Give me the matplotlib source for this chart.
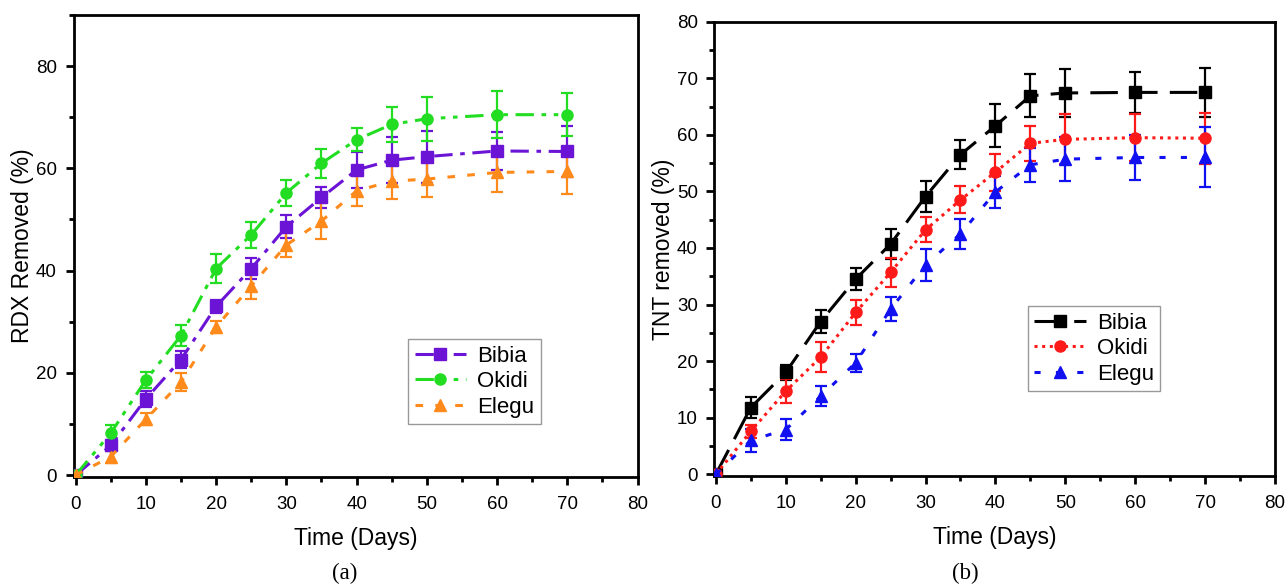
import numpy as np
import matplotlib
matplotlib.use('Agg')
import matplotlib.pyplot as plt
from matplotlib.ticker import MultipleLocator

plt.rcParams['font.family'] = ['Liberation Sans', 'DejaVu Sans']

days = [0, 5, 10, 15, 20, 25, 30, 35, 40, 45, 50, 60, 70]

# RDX removal (%)
rdx_bibia = [0, 5.8, 14.9, 22.6, 33.0, 40.4, 48.6, 54.3, 59.7, 61.6, 62.3, 63.4, 63.3]
rdx_bibia_err = [0, 1.0, 1.5, 1.7, 1.2, 2.0, 2.3, 2.0, 3.5, 4.5, 5.1, 3.8, 5.0]
rdx_okidi = [0, 8.2, 18.6, 27.3, 40.4, 47.0, 55.2, 61.0, 65.6, 68.6, 69.7, 70.5, 70.5]
rdx_okidi_err = [0, 1.5, 1.5, 2.0, 2.8, 2.5, 2.5, 2.8, 2.3, 3.4, 4.3, 4.6, 4.2]
rdx_elegu = [0, 3.6, 10.9, 18.2, 29.0, 37.0, 45.0, 49.7, 55.6, 57.5, 57.9, 59.2, 59.4]
rdx_elegu_err = [0, 1.2, 1.2, 1.7, 1.2, 2.5, 2.3, 3.5, 3.0, 3.5, 3.5, 3.8, 4.5]

# TNT removal (%)
tnt_bibia = [0, 11.8, 18.0, 27.0, 34.5, 40.7, 49.1, 56.5, 61.6, 66.9, 67.4, 67.5, 67.5]
tnt_bibia_err = [0, 1.8, 1.3, 2.1, 2.0, 2.6, 2.7, 2.5, 3.8, 3.8, 4.2, 3.6, 4.4]
tnt_okidi = [0, 7.6, 14.7, 20.7, 28.6, 35.7, 43.2, 48.5, 53.4, 58.5, 59.2, 59.5, 59.4]
tnt_okidi_err = [0, 1.2, 2.1, 2.6, 2.2, 2.6, 2.2, 2.4, 3.3, 3.1, 4.4, 4.1, 4.5]
tnt_elegu = [0, 6.0, 7.9, 13.8, 19.7, 29.2, 37.0, 42.5, 49.9, 54.7, 55.7, 56.0, 56.0]
tnt_elegu_err = [0, 2.0, 1.9, 1.8, 1.6, 2.1, 2.8, 2.6, 2.8, 3.0, 3.9, 3.9, 5.3]

fig = plt.figure(figsize=(12.88, 5.86), dpi=100)
ax1 = fig.add_axes([0.0571, 0.1867, 0.4379, 0.7877])
ax2 = fig.add_axes([0.5547, 0.1877, 0.4352, 0.7753])


def draw(ax, y, err, color, marker, ls, label):
    # error bars first, then the line with markers (this one goes to the legend)
    ax.errorbar(days, y, yerr=err, fmt='none', ecolor=color, elinewidth=1.6,
                capsize=4.5, capthick=1.6, zorder=3)
    ax.plot(days, y, color=color, marker=marker, markersize=8,
            linestyle=ls, linewidth=2.2, label=label, zorder=4)


def style(ax, ylabel, ymax, ymajor, yminor):
    ax.set_xlim(-0.3, 80)
    ax.set_ylim(-0.3, ymax)
    ax.xaxis.set_major_locator(MultipleLocator(10))
    ax.xaxis.set_minor_locator(MultipleLocator(5))
    ax.yaxis.set_major_locator(MultipleLocator(ymajor))
    ax.yaxis.set_minor_locator(MultipleLocator(yminor))
    ax.tick_params(which='major', direction='out', length=6, width=2,
                   labelsize=13.5, pad=6)
    ax.tick_params(axis='x', which='major', pad=8)
    ax.tick_params(which='minor', direction='out', length=3.5, width=2)
    for s in ax.spines.values():
        s.set_linewidth(2)
    ax.set_xlabel('Time (Days)', fontsize=16.5, labelpad=10)
    ax.set_ylabel(ylabel, fontsize=16.5, labelpad=1)


leg_kw = dict(loc='upper left', fontsize=16, fancybox=False, edgecolor='#999999',
              framealpha=1, handlelength=2.3, borderpad=0.3, labelspacing=0.2,
              handletextpad=0.5, borderaxespad=0)

# (a) RDX
draw(ax1, rdx_bibia, rdx_bibia_err, '#6B14D6', 's', (0, (6, 2.5, 1.5, 2.5)), 'Bibia')
draw(ax1, rdx_okidi, rdx_okidi_err, '#22DD22', 'o', (0, (6, 2.5, 1.5, 2.5, 1.5, 2.5)), 'Okidi')
draw(ax1, rdx_elegu, rdx_elegu_err, '#FF8A1C', '^', (0, (2.5, 4)), 'Elegu')
style(ax1, 'RDX Removed (%)', 90, 20, 10)
ax1.legend(bbox_to_anchor=(0.593, 0.298), **leg_kw)

# (b) TNT
draw(ax2, tnt_bibia, tnt_bibia_err, 'black', 's', (0, (9, 4)), 'Bibia')
draw(ax2, tnt_okidi, tnt_okidi_err, '#FF1A1A', 'o', (0, (1, 1.5)), 'Okidi')
draw(ax2, tnt_elegu, tnt_elegu_err, '#1010F0', '^', (0, (2, 5)), 'Elegu')
style(ax2, 'TNT removed (%)', 80, 10, 5)
ax2.set_xlim(-0.2, 80)
ax2.legend(bbox_to_anchor=(0.559, 0.374), **leg_kw)

fig.text(345 / 1288, 1 - 573 / 586, '(a)', family='Liberation Serif', fontsize=16.5,
         ha='center', va='center')
fig.text(965 / 1288, 1 - 573 / 586, '(b)', family='Liberation Serif', fontsize=16.5,
         ha='center', va='center')

fig.savefig('out.png', dpi=100)
